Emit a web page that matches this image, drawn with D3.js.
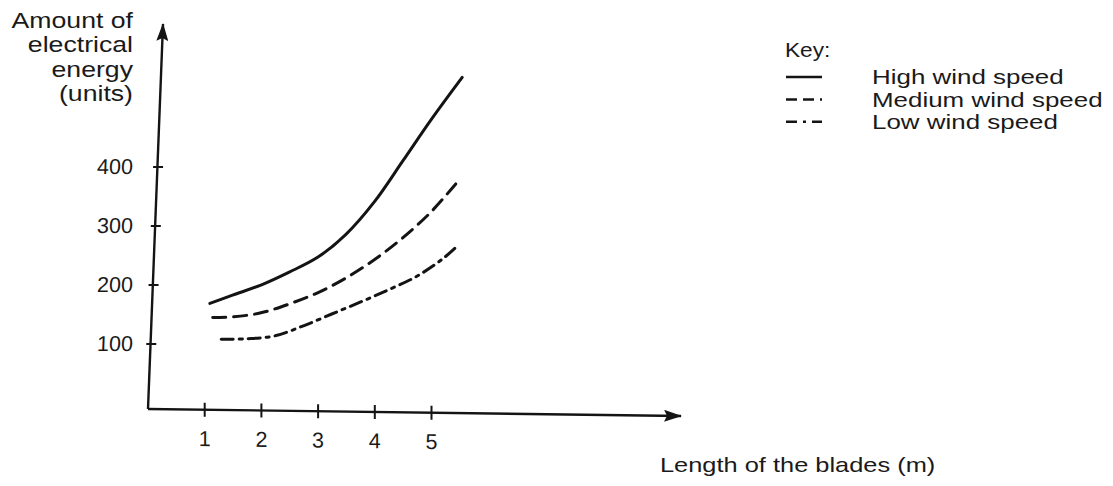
<!DOCTYPE html>
<html>
<head>
<meta charset="utf-8">
<script src="https://cdn.jsdelivr.net/npm/d3@7"></script>
<style>
    body { margin: 0; background: #fff; }
    text { font-family: "Liberation Sans", Arial, sans-serif; fill: #1a1a1a; }
</style>
</head>
<body>
<div id="chart"></div>
<script>
// values
const xTicks = [1, 2, 3, 4, 5];
const yTicks = [100, 200, 300, 400];
const seriesNames = ["High wind speed", "Medium wind speed", "Low wind speed"];

const highLength = [1.1, 1.5, 2, 2.5, 3, 3.5, 4, 4.5, 5, 5.55];
const highEnergy = [168, 182, 199, 221, 246, 285, 340, 409, 479, 551];

const mediumLength = [1.15, 1.5, 2, 2.5, 3, 3.5, 4, 4.5, 5, 5.45];
const mediumEnergy = [144, 145, 152, 167, 186, 211, 242, 279, 323, 372];

const lowLength = [1.3, 1.75, 2.25, 2.75, 3.25, 3.75, 4.25, 4.75, 5.2, 5.45];
const lowEnergy = [107, 108, 113, 130, 150, 170, 191, 214, 243, 264];

const yLabelLines = ["Amount of", "electrical", "energy", "(units)"];

var width = 1113;
var height = 486;
var ink = '#141414';
var stretch = 1.24;   // the scanned text is wider than it is tall
var dashes = ['none', '13,8', '12,6,3,6'];
var keyDashes = ['none', '11,6,11,6,3,20', '11,6,3,6,11,20'];

var svg = d3.select('#chart')
    .append('svg')
    .attr('width', width)
    .attr('height', height);

svg.append('rect')
    .attr('width', width)
    .attr('height', height)
    .attr('fill', '#fff');

// helper for the stretched labels
function addText(x, y, size, anchor, txt, sx) {
    return svg.append('text')
        .attr('transform', 'translate(' + x + ',' + y + ') scale(' + (sx || stretch) + ',1)')
        .attr('font-size', size + 'px')
        .attr('text-anchor', anchor)
        .text(txt);
}

// arrow head for both axes
svg.append('defs').append('marker')
    .attr('id', 'arrow')
    .attr('viewBox', '0 -6 18 12')
    .attr('refX', 17)
    .attr('refY', 0)
    .attr('markerUnits', 'userSpaceOnUse')
    .attr('markerWidth', 18)
    .attr('markerHeight', 12)
    .attr('orient', 'auto')
    .append('path')
    .attr('d', 'M0,-6L18,0L0,6L3,0Z')
    .attr('fill', ink);

var x_scale = d3.scaleLinear()
    .domain([0, 5])
    .range([147.5, 431]);

var y_scale = d3.scaleLinear()
    .domain([0, 400])
    .range([402.5, 166.5]);

// axes are a little crooked on the scan
svg.append('line')
    .attr('x1', 148).attr('y1', 409)
    .attr('x2', 163).attr('y2', 24)
    .attr('stroke', ink)
    .attr('stroke-width', 2.4)
    .attr('marker-end', 'url(#arrow)');

svg.append('line')
    .attr('x1', 148).attr('y1', 409)
    .attr('x2', 681).attr('y2', 416)
    .attr('stroke', ink)
    .attr('stroke-width', 2.4)
    .attr('marker-end', 'url(#arrow)');

let y_axis = d3.axisLeft(y_scale)
    .tickValues(yTicks)
    .tickSize(5);

let yAxisG = svg.append('g')
    .attr('transform', 'translate(164.5,0) skewX(-2.2)')
    .call(y_axis);

yAxisG.select('.domain').remove();
yAxisG.selectAll('.tick line')
    .attr('x1', 5)
    .attr('x2', -5)
    .attr('stroke', ink)
    .attr('stroke-width', 2);
yAxisG.selectAll('.tick text')
    .attr('font-size', '21.5px')
    .attr('fill', '#1a1a1a')
    .attr('x', function (d) { return -31.5 + 0.0384 * y_scale(d); });

let x_axis = d3.axisBottom(x_scale)
    .tickValues(xTicks)
    .tickFormat(d3.format('d'))
    .tickSize(7)
    .tickPadding(14);

let xAxisG = svg.append('g')
    .attr('transform', 'translate(0,407.05) skewY(0.754)')
    .call(x_axis);

xAxisG.select('.domain').remove();
xAxisG.selectAll('.tick line')
    .attr('y1', -7)
    .attr('y2', 7)
    .attr('stroke', ink)
    .attr('stroke-width', 2);
xAxisG.selectAll('.tick text')
    .attr('font-size', '21.5px')
    .attr('fill', '#1a1a1a');

// axis titles
yLabelLines.forEach(function (d, i) {
    addText(133, 28 + i * 24.4, 21.5, 'end', d);
});

addText(660, 472, 21, 'start', 'Length of the blades (m)', 1.21);

// the three curves
var series = [
    {name: seriesNames[0], xs: highLength, ys: highEnergy},
    {name: seriesNames[1], xs: mediumLength, ys: mediumEnergy},
    {name: seriesNames[2], xs: lowLength, ys: lowEnergy}
];

var line = d3.line()
    .x(function (d) { return x_scale(d[0]); })
    .y(function (d) { return y_scale(d[1]); })
    .curve(d3.curveCatmullRom.alpha(0.5));

svg.selectAll('.curve')
    .data(series)
    .enter()
    .append('path')
    .attr('class', 'curve')
    .attr('d', function (d) { return line(d3.zip(d.xs, d.ys)); })
    .attr('fill', 'none')
    .attr('stroke', ink)
    .attr('stroke-width', 3)
    .attr('stroke-linecap', 'round')
    .attr('stroke-dasharray', function (d, i) { return dashes[i]; });

// key
addText(785, 57, 21, 'start', 'Key:', 1.08);

series.forEach(function (d, i) {
    var yy = 77 + i * 22.4;
    svg.append('line')
        .attr('x1', 786)
        .attr('x2', 822)
        .attr('y1', yy)
        .attr('y2', yy)
        .attr('stroke', ink)
        .attr('stroke-width', 2.5)
        .attr('stroke-dasharray', keyDashes[i]);

    addText(872, 84 + i * 22.6, 19.5, 'start', d.name, 1.33);
});
</script>
</body>
</html>
